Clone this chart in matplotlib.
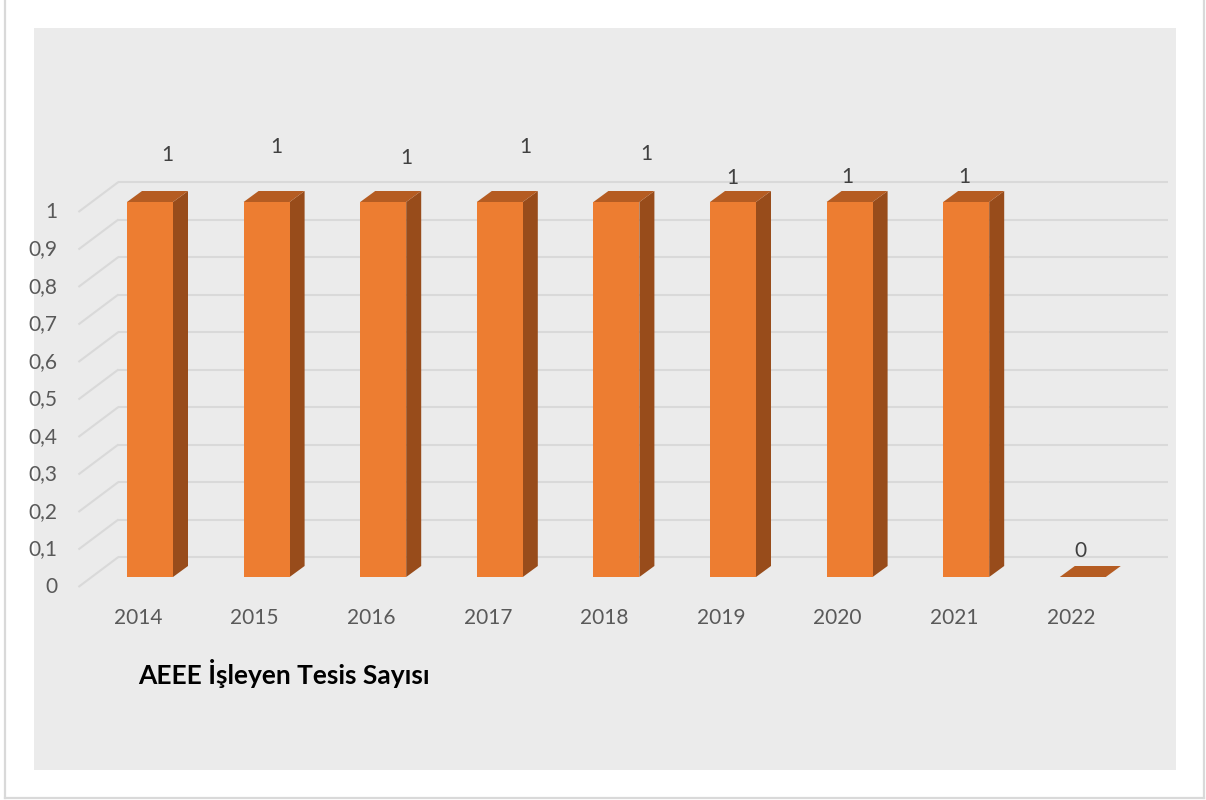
import matplotlib
matplotlib.use("Agg")
import matplotlib.pyplot as plt
from matplotlib.patches import Rectangle, Polygon
from matplotlib.lines import Line2D
from matplotlib.transforms import ScaledTranslation

# ---- data ----
years = ["2014", "2015", "2016", "2017", "2018", "2019", "2020", "2021", "2022"]
values = [1, 1, 1, 1, 1, 1, 1, 1, 0]
ytick_values = [0, 0.1, 0.2, 0.3, 0.4, 0.5, 0.6, 0.7, 0.8, 0.9, 1]
ytick_labels = ["0", "0,1", "0,2", "0,3", "0,4", "0,5", "0,6", "0,7", "0,8", "0,9", "1"]
title = "AEEE İşleyen Tesis Sayısı"

# label offsets (pixels, image coords: +x right, +y down) from bar front-top center
label_offsets = [(17, -47), (10, -55), (23, -44), (26, -55), (30, -48),
                 (-1, -24), (-2, -25), (-2, -25), (-2, -26)]

FRONT = "#ED7D31"
TOP = "#B55C22"
SIDE = "#984C1B"
GRID = "#D9D9D9"
PANEL = "#EBEBEB"
AXTXT = "#595959"
LBLTXT = "#404040"
FONT = "Lato"

W_PX, H_PX = 1206, 800
fig = plt.figure(figsize=(W_PX / 100, H_PX / 100), dpi=100)
fig.patch.set_facecolor("white")

def fx(px):
    return px / W_PX

def fy(py):
    return 1 - py / H_PX

# panel
fig.add_artist(Rectangle((fx(34), fy(770)), fx(1176) - fx(34), fy(28) - fy(770),
                         transform=fig.transFigure, facecolor=PANEL, edgecolor="none", zorder=0))
# outer border
for xs, ys in [([5, 5], [0, 798]), ([1204, 1204], [0, 798]), ([5, 1204], [798, 798])]:
    fig.add_artist(Line2D([fx(x) for x in xs], [fy(y) for y in ys], transform=fig.transFigure,
                          color="#D9D9D9", lw=1.6, zorder=1))

# axes = bar front plane
ax_left, ax_right = 91.7, 1141.1
ax_top, ax_bottom = 202, 577
ax = fig.add_axes([fx(ax_left), fy(ax_bottom), fx(ax_right) - fx(ax_left), fy(ax_top) - fy(ax_bottom)])
ax.set_xlim(-0.5, len(years) - 0.5)
ax.set_ylim(0, 1)
ax.axis("off")
ax.patch.set_alpha(0)

fig.canvas.draw()
p0 = ax.transData.transform((0, 0))
p1 = ax.transData.transform((1, 1))
sx = p1[0] - p0[0]
sy = p1[1] - p0[1]

def d(dx_img, dy_img):
    """pixel offset (image coords) -> data offset"""
    return dx_img / sx, -dy_img / sy

def off(dx_img, dy_img):
    return ax.transData + ScaledTranslation(dx_img / 100, -dy_img / 100, fig.dpi_scale_trans)

# floor depth geometry
front_off = (-13.3, 10)
back_off = (26.7, -20)
bar_depth = (15, -11)

x0, x1 = ax.get_xlim()
fdx, fdy = d(*front_off)
bdx, bdy = d(*back_off)
for v in ytick_values:
    ax.plot([x0 + fdx, x0 + bdx], [v + fdy, v + bdy], color=GRID, lw=1.5,
            solid_capstyle="butt", clip_on=False, zorder=1)
    ax.plot([x0 + bdx, x1 + bdx], [v + bdy, v + bdy], color=GRID, lw=1.5,
            solid_capstyle="butt", clip_on=False, zorder=1)

# bars
bw = 46 / sx
ddx, ddy = d(*bar_depth)
xs = list(range(len(years)))
ax.bar(xs, values, width=bw, color=FRONT, edgecolor="none", zorder=3, clip_on=False)
for x, v in zip(xs, values):
    l, r = x - bw / 2, x + bw / 2
    top = Polygon([(l, v), (r, v), (r + ddx, v + ddy), (l + ddx, v + ddy)],
                  closed=True, facecolor=TOP, edgecolor="none", zorder=3, clip_on=False)
    ax.add_patch(top)
    if v > 0:
        side = Polygon([(r, 0), (r + ddx, ddy), (r + ddx, v + ddy), (r, v)],
                       closed=True, facecolor=SIDE, edgecolor="none", zorder=2, clip_on=False)
        ax.add_patch(side)

# y tick labels
for v, lab in zip(ytick_values, ytick_labels):
    ax.text(x0, v, lab, transform=off(-34.5, 10), ha="right", va="center",
            fontsize=15, color=AXTXT, family=FONT, clip_on=False)

# x labels
for x, lab in zip(xs, years):
    ax.text(x, 0, lab, transform=off(-12, 41), ha="center", va="center",
            fontsize=15, color=AXTXT, family=FONT, clip_on=False)

# data labels
for x, v, (ox, oy) in zip(xs, values, label_offsets):
    ax.text(x, v, str(v), transform=off(ox, oy), ha="center", va="center",
            fontsize=15, color=LBLTXT, family=FONT, clip_on=False)

# title
fig.text(fx(138), fy(673), title, ha="left", va="center", fontsize=19,
         fontweight="bold", color="black", family=FONT)

fig.savefig("out.png", dpi=100)
